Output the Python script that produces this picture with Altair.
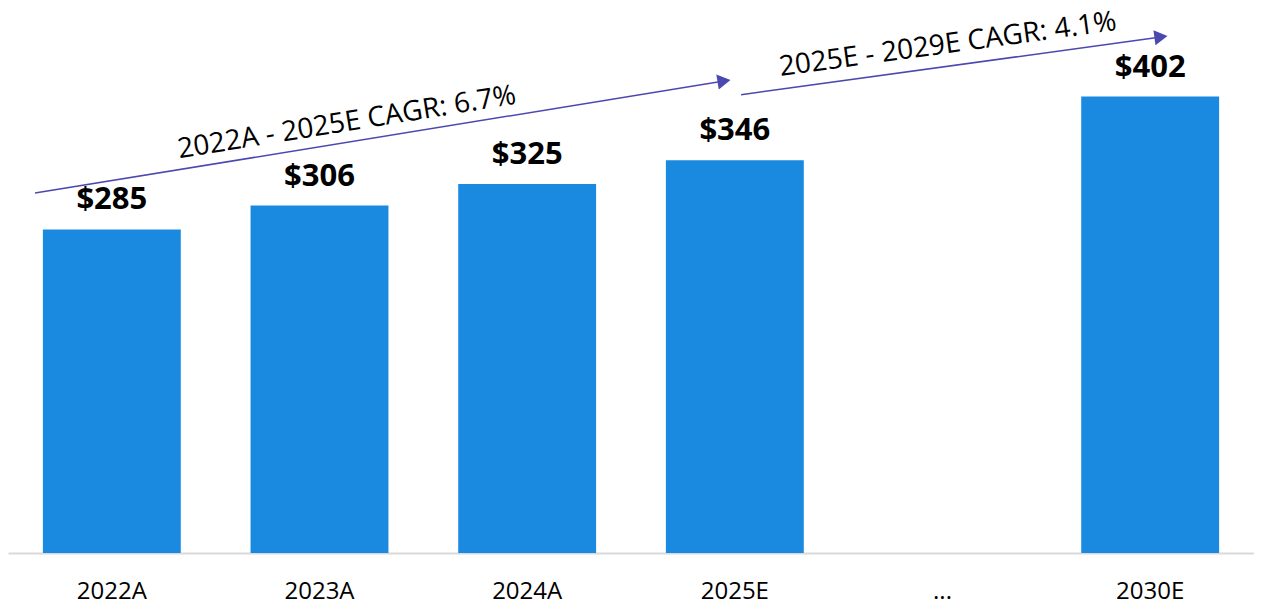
import altair as alt
import pandas as pd

# ---- data ----
categories = ["2022A", "2023A", "2024A", "2025E", "...", "2030E"]
values = [285, 306, 325, 346, None, 402]

# CAGR annotation arrows (x in category-step units, y in value units)
arrow_x_start = [0.13, 3.53]
arrow_y_start = [317, 403.6]
arrow_x_end = [3.448, 5.552]
arrow_y_end = [415.7, 454.5]
arrow_angles = [350.8, 352.2]
cagr_labels = ["2022A - 2025E CAGR: 6.7%", "2025E - 2029E CAGR: 4.1%"]
cagr_x = [1.632, 4.526]
cagr_y = [378.7, 447.4]

BAR = "#1A89E0"
ARROW = "#4B48B0"
FONT = "Open Sans"
W, H = 1246, 545
YMAX = 480

bars_df = pd.DataFrame({"cat": categories, "val": values})
bars_df["label"] = ["" if v is None or pd.isna(v) else f"${int(v)}" for v in bars_df["val"]]

arrows_df = pd.DataFrame({
    "x1": arrow_x_start, "y1": arrow_y_start,
    "x2": arrow_x_end, "y2": arrow_y_end,
    "angle": arrow_angles,
})
text_df = pd.DataFrame({"x": cagr_x, "y": cagr_y, "t": cagr_labels, "angle": arrow_angles})

cat_scale = alt.Scale(domain=categories, paddingInner=0.336, paddingOuter=0.168)
cat_axis = alt.Axis(
    title=None, labelAngle=0, ticks=False, labelPadding=26,
    labelFontSize=24, labelFont=FONT, labelColor="#000000",
    domainColor="#D9D9D9", domainWidth=2, grid=False, orient="bottom",
)
xcat = alt.X("cat:N", sort=categories, scale=cat_scale, axis=cat_axis)
yscale = alt.Scale(domain=[0, YMAX], nice=False, zero=True)

bars = alt.Chart(bars_df).mark_bar(color=BAR).encode(
    x=xcat,
    y=alt.Y("val:Q", scale=yscale, axis=None),
)

value_labels = alt.Chart(bars_df).transform_filter("datum.val != null").mark_text(
    font=FONT, fontSize=31, fontWeight="bold", color="#000000", dy=-20, baseline="alphabetic"
).encode(
    x=xcat,
    y=alt.Y("val:Q", scale=yscale, axis=None),
    text="label:N",
)

base = alt.layer(bars, value_labels)

xq = alt.Scale(domain=[0, len(categories)], nice=False, zero=False)

rules = alt.Chart(arrows_df).mark_rule(color=ARROW, strokeWidth=1.5).encode(
    x=alt.X("x1:Q", scale=xq, axis=None),
    x2="x2:Q",
    y=alt.Y("y1:Q", scale=yscale, axis=None),
    y2="y2:Q",
)

heads = alt.Chart(arrows_df).mark_point(
    shape="triangle-right", filled=True, color=ARROW, opacity=1, size=230
).encode(
    x=alt.X("x2:Q", scale=xq, axis=None),
    y=alt.Y("y2:Q", scale=yscale, axis=None),
    angle=alt.Angle("angle:Q", scale=None),
)

cagr_text = alt.Chart(text_df).mark_text(
    font=FONT, fontSize=28, color="#000000", align="center", baseline="middle"
).encode(
    x=alt.X("x:Q", scale=xq, axis=None),
    y=alt.Y("y:Q", scale=yscale, axis=None),
    text="t:N",
    angle=alt.Angle("angle:Q", scale=None),
)

annotations = alt.layer(rules, heads, cagr_text)

chart = (
    alt.layer(base, annotations)
    .resolve_scale(x="independent")
    .properties(width=W, height=H, padding=0, background="#FFFFFF")
    .configure_view(stroke=None)
)

chart.save("out.html", embed_options={"renderer": "svg", "actions": False})
